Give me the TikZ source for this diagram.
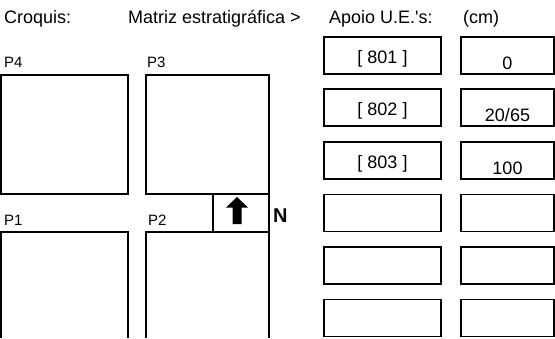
\documentclass[tikz,border=0pt]{standalone}
\usepackage{fontspec}
\setmainfont{Liberation Sans}
\begin{document}
\begin{tikzpicture}[x=1pt,y=-1pt,
  txt/.style={inner sep=0pt,anchor=base west,font=\fontsize{18}{20}\selectfont},
  plabel/.style={inner sep=0pt,anchor=base west,font=\fontsize{15}{17}\selectfont},
  uebox/.style={draw,line width=1.8pt,minimum width=117pt,minimum height=37pt,inner sep=0pt},
  cmbox/.style={draw,line width=1.8pt,minimum width=93pt,minimum height=37pt,inner sep=0pt},
  boxtxt/.style={inner sep=0pt,anchor=base,font=\fontsize{18}{20}\selectfont},
  plan/.style={line width=1.6pt}]
\useasboundingbox (0,0) rectangle (555,338);
% headers
\node[txt] (h1) at (4,23) {Croquis:};
\node[txt] (h2) at (128,23) {Matriz estratigráfica >};
\node[txt] (h3) at (329,23) {Apoio U.E.\textquotesingle s:};
\node[txt] (h4) at (463,23) {(cm)};
% plan
\node[plabel] (p4) at (4,67) {P4};
\node[plabel] (p3) at (147,67) {P3};
\node[plabel] (p1) at (4,225) {P1};
\node[plabel] (p2) at (148,225) {P2};
\draw[plan] (1,75) rectangle (128,194);
\draw[plan] (146,75) rectangle (269,194);
\draw[plan] (213,194) -- (213,232);
\draw[plan] (1,338) -- (1,232) -- (128,232) -- (128,338);
\draw[plan] (146,338) -- (146,232) -- (269,232);
\draw[plan] (269,194) -- (269,338);
\fill (237,197) -- (248,207.5) -- (241.5,207.5) -- (241.5,224) -- (232.5,224) -- (232.5,207.5) -- (226,207.5) -- cycle;
\node[inner sep=0pt,anchor=base west,font=\fontsize{20}{22}\selectfont\bfseries] (n) at (273,222) {N};
% U.E. boxes
\node[uebox] (u1) at (382.5,55.5) {};
\node[uebox] (u2) at (382.5,107.5) {};
\node[uebox] (u3) at (382.5,160.5) {};
\node[uebox] (u4) at (382.5,213) {};
\node[uebox] (u5) at (382.5,265.5) {};
\node[uebox] (u6) at (382.5,318) {};
\node[boxtxt] (ut1) at ([yshift=11pt]u1.south) {[ 801 ]};
\node[boxtxt] (ut2) at ([yshift=11pt]u2.south) {[ 802 ]};
\node[boxtxt] (ut3) at ([yshift=11pt]u3.south) {[ 803 ]};
% cm boxes
\node[cmbox] (c1) at (507.5,55.5) {};
\node[cmbox] (c2) at (507.5,107.5) {};
\node[cmbox] (c3) at (507.5,160.5) {};
\node[cmbox] (c4) at (507.5,213) {};
\node[cmbox] (c5) at (507.5,265.5) {};
\node[cmbox] (c6) at (507.5,318) {};
\node[boxtxt] (t1) at ([yshift=5.5pt]c1.south) {0};
\node[boxtxt] (t2) at ([yshift=5.5pt]c2.south) {20/65};
\node[boxtxt] (t3) at ([yshift=5.5pt]c3.south) {100};
\end{tikzpicture}
\end{document}
